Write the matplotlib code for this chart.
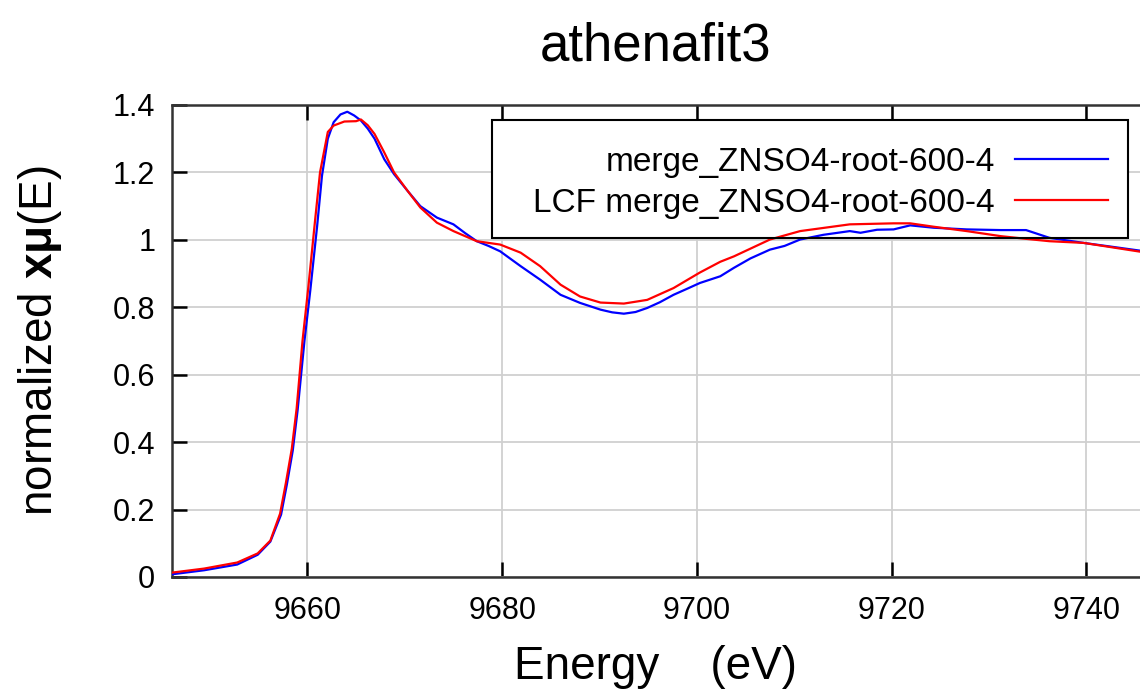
import matplotlib
matplotlib.use('Agg')
import matplotlib.pyplot as plt
from matplotlib.patches import Rectangle

# ------------------------------------------------------------
# data (energy in eV, normalized mu)
# ------------------------------------------------------------
energy_data = [9646.1, 9649.4, 9652.8, 9654.9, 9656.2, 9657.3, 9657.9, 9658.5,
               9659.0, 9659.7, 9660.3, 9661.0, 9661.5, 9662.1, 9662.7, 9663.4,
               9664.1, 9664.8, 9665.5, 9666.2, 9666.9, 9667.9, 9668.9, 9670.3,
               9671.6, 9673.3, 9675.0, 9676.2, 9677.4, 9678.6, 9679.8, 9680.8,
               9681.9, 9683.9, 9686.0, 9688.0, 9690.1, 9691.3, 9692.5, 9693.7,
               9694.9, 9696.2, 9697.6, 9699.0, 9700.3, 9702.4, 9703.8, 9705.5,
               9707.5, 9709.0, 9710.6, 9713.0, 9715.7, 9716.8, 9718.5, 9720.2,
               9721.9, 9724.3, 9727.7, 9731.2, 9733.8, 9736.2, 9739.7, 9742.5,
               9745.5]
mu_data = [0.008, 0.020, 0.037, 0.066, 0.105, 0.185, 0.275, 0.375,
           0.495, 0.700, 0.850, 1.040, 1.190, 1.300, 1.349, 1.372,
           1.380, 1.369, 1.354, 1.330, 1.300, 1.239, 1.195, 1.145,
           1.100, 1.066, 1.046, 1.020, 0.996, 0.982, 0.966, 0.945,
           0.922, 0.882, 0.837, 0.813, 0.793, 0.785, 0.781, 0.786,
           0.798, 0.815, 0.837, 0.855, 0.872, 0.892, 0.917, 0.945,
           0.971, 0.982, 1.001, 1.015, 1.026, 1.021, 1.030, 1.031,
           1.043, 1.036, 1.031, 1.029, 1.029, 1.006, 0.991, 0.980,
           0.968]

energy_fit = [9646.1, 9649.4, 9652.8, 9654.9, 9656.2, 9657.2, 9657.8, 9658.4,
              9658.9, 9659.5, 9660.1, 9660.8, 9661.3, 9662.1, 9662.7, 9663.8,
              9665.0, 9665.5, 9666.2, 9666.9, 9667.9, 9668.9, 9670.3, 9671.6,
              9673.3, 9675.0, 9677.4, 9679.8, 9681.9, 9683.9, 9686.0, 9688.0,
              9690.1, 9692.5, 9694.9, 9697.6, 9700.3, 9702.4, 9703.8, 9707.5,
              9710.6, 9715.7, 9720.2, 9721.9, 9724.3, 9727.7, 9731.2, 9733.8,
              9736.2, 9739.7, 9745.5]
mu_fit = [0.013, 0.025, 0.043, 0.070, 0.108, 0.188, 0.280, 0.380,
          0.500, 0.700, 0.860, 1.060, 1.200, 1.320, 1.339, 1.351,
          1.352, 1.357, 1.340, 1.314, 1.259, 1.200, 1.145, 1.096,
          1.051, 1.026, 0.996, 0.986, 0.962, 0.922, 0.867, 0.832,
          0.814, 0.811, 0.822, 0.857, 0.903, 0.935, 0.951, 1.001,
          1.026, 1.046, 1.049, 1.049, 1.039, 1.026, 1.011, 1.003,
          0.996, 0.991, 0.965]

label_data = 'merge_ZNSO4-root-600-4'
label_fit = 'LCF merge_ZNSO4-root-600-4'
x_ticks = [9660, 9680, 9700, 9720, 9740]
y_ticks = [0, 0.2, 0.4, 0.6, 0.8, 1, 1.2, 1.4]
y_ticklabels = ['0', '0.2', '0.4', '0.6', '0.8', '1', '1.2', '1.4']

plt.rcParams['font.family'] = ['Liberation Sans', 'DejaVu Sans']
plt.rcParams['mathtext.fontset'] = 'custom'
plt.rcParams['mathtext.rm'] = 'Liberation Sans'
plt.rcParams['mathtext.bf'] = 'Liberation Sans:bold'

fig = plt.figure(figsize=(11.4, 7), dpi=100)
ax = fig.add_axes([172 / 1140, 123 / 700, 968 / 1140, 472 / 700])

ax.plot(energy_data, mu_data, color='#0000ff', lw=1.6, label=label_data, zorder=3)
ax.plot(energy_fit, mu_fit, color='#ff0000', lw=1.6, label=label_fit, zorder=3)

ax.set_xlim(9646.1, 9745.5)
ax.set_ylim(0, 1.4)
ax.set_xticks(x_ticks)
ax.set_yticks(y_ticks)
ax.set_yticklabels(y_ticklabels)
ax.grid(True, color='#d0d0d0', lw=1.3)
ax.set_axisbelow(True)

ax.tick_params(direction='in', length=11, width=1.8, top=True, right=False,
               labelsize=22, color='black')
ax.tick_params(axis='y', pad=12)
ax.tick_params(axis='x', pad=14)
for s in ['left', 'bottom', 'top']:
    ax.spines[s].set_linewidth(1.8)
    ax.spines[s].set_color('#333333')
ax.spines['right'].set_visible(False)

ax.set_title('athenafit3', fontsize=38, pad=32)
ax.set_xlabel('Energy    (eV)', fontsize=33)
ax.set_ylabel('normalized $\\mathbf{x\u03bc}$(E)', fontsize=33)
ax.xaxis.set_label_coords(0.5, -0.145)
ax.yaxis.set_label_coords(-0.112, 0.5)

# gnuplot-style key box: white fill hides the grid but not the curves
box_xy = (0.3306, 0.7182)
box_w, box_h = 0.9876 - 0.3306, 0.9682 - 0.7182
ax.add_patch(Rectangle(box_xy, box_w, box_h, transform=ax.transAxes,
                       facecolor='white', edgecolor='none', zorder=1.5))
ax.add_patch(Rectangle(box_xy, box_w, box_h, transform=ax.transAxes,
                       facecolor='none', edgecolor='black', lw=1.5, zorder=4.5))

leg = ax.legend(loc='upper right', bbox_to_anchor=(0.995, 0.968),
                borderaxespad=0, fontsize=24, markerfirst=False,
                handlelength=2.8, handletextpad=0.6, borderpad=0.81,
                labelspacing=0.3, frameon=False)

fig.savefig('out.png', dpi=100)
